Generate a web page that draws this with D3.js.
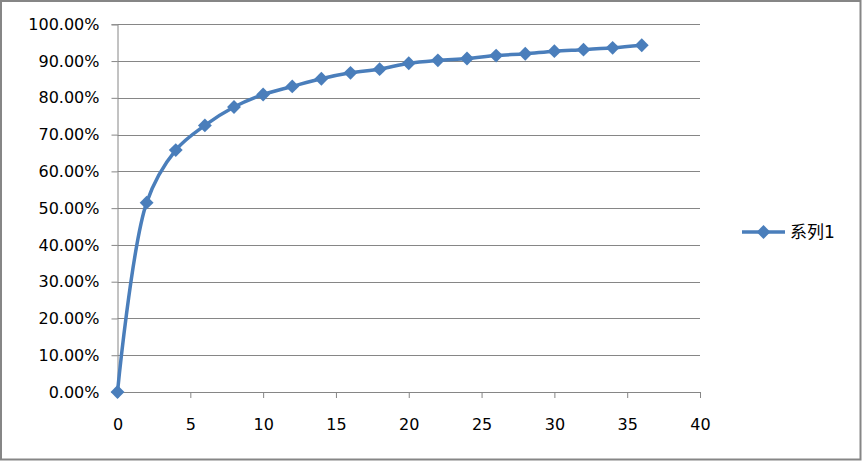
<!DOCTYPE html>
<html><head><meta charset="utf-8">
<script src="https://cdn.jsdelivr.net/npm/d3@7"></script>
<style>html,body{margin:0;padding:0;background:#fff;}svg{display:block;}</style>
</head><body>
<script>
const xValues = [0,2,4,6,8,10,12,14,16,18,20,22,24,26,28,30,32,34,36];
const yValues = [0,0.515,0.658,0.725,0.775,0.809,0.831,0.852,0.868,0.878,0.894,0.902,0.907,0.915,0.920,0.927,0.931,0.936,0.943];
const seriesName = "系列1";
const xTicks = [0,5,10,15,20,25,30,35,40];
const yTicks = [0,0.1,0.2,0.3,0.4,0.5,0.6,0.7,0.8,0.9,1.0];

const W = 862, H = 461;
const svg = d3.select("body").append("svg").attr("width", W).attr("height", H);
svg.append("rect").attr("x",1).attr("y",1).attr("width",W-2.5).attr("height",H-2.5)
  .attr("fill","#fff").attr("stroke","#868686").attr("stroke-width",2);

const x = d3.scaleLinear().domain([0,40]).range([117.5,700]);
const y = d3.scaleLinear().domain([0,1]).range([392,24.3]);
const font = "'DejaVu Sans','Noto Sans CJK SC',sans-serif";
const grey = "#868686";

// gridlines
svg.append("g").selectAll("line").data(yTicks.slice(1)).join("line")
  .attr("x1", x(0)).attr("x2", x(40))
  .attr("y1", d=>Math.round(y(d))+0.5).attr("y2", d=>Math.round(y(d))+0.5)
  .attr("stroke", grey).attr("stroke-width",1);

// y axis
const yAxis = d3.axisLeft(y).tickValues(yTicks).tickFormat(d=>(d*100).toFixed(2)+"%").tickSize(6).tickPadding(12);
const gy = svg.append("g").attr("transform",`translate(${x(0)},0)`).call(yAxis);
gy.select(".domain").attr("stroke",grey);
gy.selectAll(".tick line").attr("stroke",grey);
gy.selectAll("text").attr("font-family",font).attr("font-size",16).attr("fill","#000");

// x axis
const xAxis = d3.axisBottom(x).tickValues(xTicks).tickSize(6).tickPadding(21);
const gx = svg.append("g").attr("transform",`translate(0,${y(0)})`).call(xAxis);
gx.select(".domain").attr("stroke",grey);
gx.selectAll(".tick line").attr("stroke",grey);
gx.selectAll("text").attr("font-family",font).attr("font-size",16).attr("fill","#000");

const color = "#4A7EBB";
const data = xValues.map((v,i)=>[v,yValues[i]]);
const line = d3.line().x(d=>x(d[0])).y(d=>y(d[1])).curve(d3.curveCatmullRom.alpha(0.5));
svg.append("path").datum(data).attr("d",line).attr("fill","none")
  .attr("stroke",color).attr("stroke-width",3.5).attr("stroke-linejoin","round");

const marker = d3.symbol().type(d3.symbolSquare).size(96);
svg.append("g").selectAll("path").data(data).join("path")
  .attr("transform", d=>`translate(${x(d[0])},${y(d[1])}) rotate(45)`)
  .attr("d", marker)
  .attr("fill",color);

// legend
const lg = svg.append("g").attr("transform","translate(742,232)");
lg.append("line").attr("x1",0).attr("x2",43).attr("y1",0).attr("y2",0).attr("stroke",color).attr("stroke-width",3.5);
lg.append("path").attr("transform","translate(21.5,0) rotate(45)").attr("d", marker).attr("fill",color);
lg.append("text").attr("x",48).attr("y",0).attr("dy","0.35em").attr("font-family",font).attr("font-size",17).text(seriesName);
</script>
</body></html>
